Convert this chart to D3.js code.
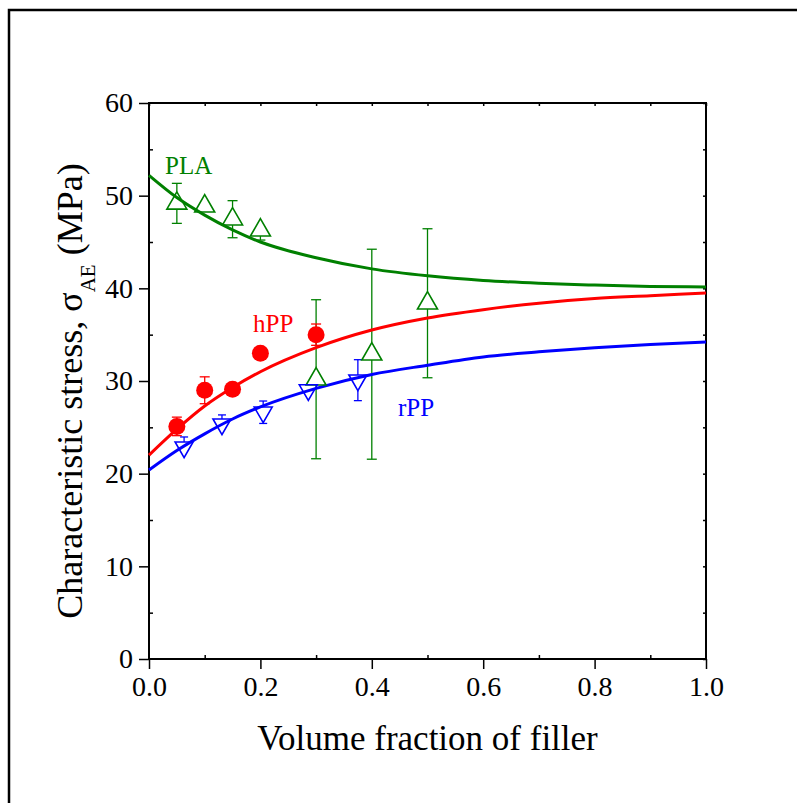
<!DOCTYPE html>
<html>
<head>
<meta charset="utf-8">
<script src="https://cdn.jsdelivr.net/npm/d3@7"></script>
<style>
  body { margin: 0; background: #fff; }
  svg { display: block; }
</style>
</head>
<body>
<svg class="chart"></svg>
<script>
// measured points (volume fraction, characteristic stress in MPa, error)
const fillerPLA = [0.05, 0.10, 0.15, 0.20, 0.30, 0.40, 0.50]
const stressPLA = [49.17, 48.86, 47.46, 46.27, 30.19, 32.89, 38.39]
const errorPLA = [2.16, 0.5, 2.0, 1.06, 8.58, 11.33, 8.04]

const fillerHPP = [0.05, 0.10, 0.15, 0.20, 0.30]
const stressHPP = [25.1, 29.0, 29.1, 33.0, 35.0]
const errorHPP = [1.0, 1.45, 0.4, 0.4, 1.15]

const fillerRPP = [0.063, 0.131, 0.205, 0.286, 0.375]
const stressRPP = [22.86, 25.34, 26.63, 29.03, 30.09]
const errorRPP = [1.1, 1.0, 1.21, 0.4, 2.21]

// fitted curves
const fitX = [0, 0.05, 0.1, 0.15, 0.2, 0.3, 0.4, 0.5, 0.6, 0.7, 0.8, 0.9, 1.0]
const fitPLA = [52.2, 49.8, 47.9, 46.3, 45.0, 43.3, 42.1, 41.35, 40.85, 40.55, 40.35, 40.2, 40.15]
const fitHPP = [22.0, 24.8, 27.3, 29.3, 31.0, 33.6, 35.5, 36.8, 37.7, 38.4, 38.9, 39.2, 39.5]
const fitRPP = [20.4, 22.5, 24.3, 25.9, 27.2, 29.2, 30.7, 31.7, 32.6, 33.15, 33.6, 33.95, 34.2]

const xMajor = [0, 0.2, 0.4, 0.6, 0.8, 1.0]
const xMinor = [0.1, 0.3, 0.5, 0.7, 0.9]
const yMajor = [0, 10, 20, 30, 40, 50, 60]
const yMinor = [5, 15, 25, 35, 45, 55]

const w = 797
const h = 803
const plotLeft = 149
const plotRight = 706
const plotTop = 103
const plotBottom = 659
const serif = "'Liberation Serif', 'Times New Roman', serif"
const green = '#008000'
const red = '#ff0000'
const blue = '#0000ff'

const svg = d3.select('.chart')
  .attr('width', w)
  .attr('height', h)
  .style('font-family', serif)

const xScale = d3.scaleLinear().domain([0, 1]).range([plotLeft, plotRight])
const yScale = d3.scaleLinear().domain([0, 60]).range([plotBottom, plotTop])

const toPoints = (xs, ys, es) => xs.map((x, i) => ({x, y: ys[i], e: es ? es[i] : 0}))

const createFrame = () => {
  svg.append('rect')
    .attr('x', 9).attr('y', 10)
    .attr('width', 900).attr('height', 900)
    .attr('fill', 'none').attr('stroke', '#000').attr('stroke-width', 2.5)

  svg.append('rect')
    .attr('x', plotLeft).attr('y', plotTop)
    .attr('width', plotRight - plotLeft).attr('height', plotBottom - plotTop)
    .attr('fill', 'none').attr('stroke', '#000').attr('stroke-width', 2)
}

const createAxes = () => {
  const addAxis = (axis, transform) => {
    const g = svg.append('g')
      .attr('transform', transform)
      .call(axis)
    g.attr('font-family', null).attr('font-size', null)
      .style('font-family', serif).style('font-size', '28px')
    g.select('.domain').remove()
    g.selectAll('line').attr('stroke', '#000').attr('stroke-width', 1.5)
    g.selectAll('text').attr('fill', '#000').style('font-family', serif)
    return g
  }

  addAxis(d3.axisBottom(xScale).tickValues(xMajor).tickSize(10).tickPadding(7).tickFormat(d3.format('.1f')),
    `translate(0,${plotBottom})`)
  addAxis(d3.axisBottom(xScale).tickValues(xMinor).tickSize(-4).tickFormat(''),
    `translate(0,${plotBottom})`)
  addAxis(d3.axisLeft(yScale).tickValues(yMajor).tickSize(10).tickPadding(6).tickFormat(d3.format('d')),
    `translate(${plotLeft},0)`)
  addAxis(d3.axisLeft(yScale).tickValues(yMinor).tickSize(-4).tickFormat(''),
    `translate(${plotLeft},0)`)
  addAxis(d3.axisTop(xScale).tickValues(xMajor.concat(xMinor)).tickSize(-3).tickFormat(''),
    `translate(0,${plotTop})`)
  addAxis(d3.axisRight(yScale).tickValues(yMajor.concat(yMinor)).tickSize(-3).tickFormat(''),
    `translate(${plotRight},0)`)
}

const createLabels = () => {
  svg.append('text')
    .attr('x', (plotLeft + plotRight) / 2)
    .attr('y', 750)
    .attr('text-anchor', 'middle')
    .style('font-family', serif)
    .style('font-size', '35px')
    .text('Volume fraction of filler')

  const yTitle = svg.append('text')
    .attr('transform', `translate(82,391) rotate(-90)`)
    .attr('text-anchor', 'middle')
    .style('font-family', serif)
    .style('font-size', '36px')
  yTitle.append('tspan').text('Characteristic stress, σ')
  yTitle.append('tspan').attr('dy', 13).style('font-size', '21px').text('AE')
  yTitle.append('tspan').attr('dy', -13).text(' (MPa)')

  const seriesLabel = (text, x, y, color) => svg.append('text')
    .attr('x', x).attr('y', y)
    .attr('fill', color)
    .style('font-family', serif)
    .style('font-size', '25px')
    .text(text)
  seriesLabel('PLA', 165, 174, green)
  seriesLabel('hPP', 253, 332, red)
  seriesLabel('rPP', 398, 416, blue)
}

// error bars stop at the marker outline (above: topGap, below: bottomGap)
const createErrorBars = (data, color, topGap, bottomGap, capWidth) => {
  const g = svg.append('g').attr('stroke', color).attr('stroke-width', 1.3).attr('fill', 'none')
  data.forEach(d => {
    const cx = xScale(d.x)
    const cy = yScale(d.y)
    const yTop = yScale(d.y + d.e)
    const yBot = yScale(d.y - d.e)
    if (yTop < cy - topGap) {
      g.append('line').attr('x1', cx).attr('x2', cx).attr('y1', yTop).attr('y2', cy - topGap)
      g.append('line').attr('x1', cx - capWidth / 2).attr('x2', cx + capWidth / 2).attr('y1', yTop).attr('y2', yTop)
    }
    if (yBot > cy + bottomGap) {
      g.append('line').attr('x1', cx).attr('x2', cx).attr('y1', cy + bottomGap).attr('y2', yBot)
      g.append('line').attr('x1', cx - capWidth / 2).attr('x2', cx + capWidth / 2).attr('y1', yBot).attr('y2', yBot)
    }
  })
}

const createCurve = (ys, color) => {
  const line = d3.line()
    .x(d => xScale(d.x))
    .y(d => yScale(d.y))
    .curve(d3.curveMonotoneX)
  svg.append('path')
    .datum(toPoints(fitX, ys))
    .attr('d', line)
    .attr('fill', 'none')
    .attr('stroke', color)
    .attr('stroke-width', 3)
}

const createMarkers = () => {
  const pla = toPoints(fillerPLA, stressPLA, errorPLA)
  const hpp = toPoints(fillerHPP, stressHPP, errorHPP)
  const rpp = toPoints(fillerRPP, stressRPP, errorRPP)

  // triangles centred on their centroid, side 20 px (PLA) and 18 px (rPP)
  const upSize = 173
  const downSize = 140
  const upR = Math.sqrt(upSize / (3 * Math.sqrt(3)))
  const downR = Math.sqrt(downSize / (3 * Math.sqrt(3)))

  createErrorBars(pla, green, 2 * upR, upR, 10)
  createErrorBars(hpp, red, 6, 6, 10)
  createErrorBars(rpp, blue, downR, 2 * downR, 8)

  createCurve(fitPLA, green)
  createCurve(fitHPP, red)
  createCurve(fitRPP, blue)

  svg.append('g').selectAll('path')
    .data(pla).enter().append('path')
    .attr('d', d3.symbol(d3.symbolTriangle, upSize))
    .attr('transform', d => `translate(${xScale(d.x)},${yScale(d.y)})`)
    .attr('fill', 'none').attr('stroke', green).attr('stroke-width', 1.6)

  svg.append('g').selectAll('circle')
    .data(hpp).enter().append('circle')
    .attr('cx', d => xScale(d.x))
    .attr('cy', d => yScale(d.y))
    .attr('r', 8.5)
    .attr('fill', red)

  svg.append('g').selectAll('path')
    .data(rpp).enter().append('path')
    .attr('d', d3.symbol(d3.symbolTriangle, downSize))
    .attr('transform', d => `translate(${xScale(d.x)},${yScale(d.y)}) rotate(180)`)
    .attr('fill', 'none').attr('stroke', blue).attr('stroke-width', 1.6)
}

createFrame()
createAxes()
createMarkers()
createLabels()
</script>
</body>
</html>
